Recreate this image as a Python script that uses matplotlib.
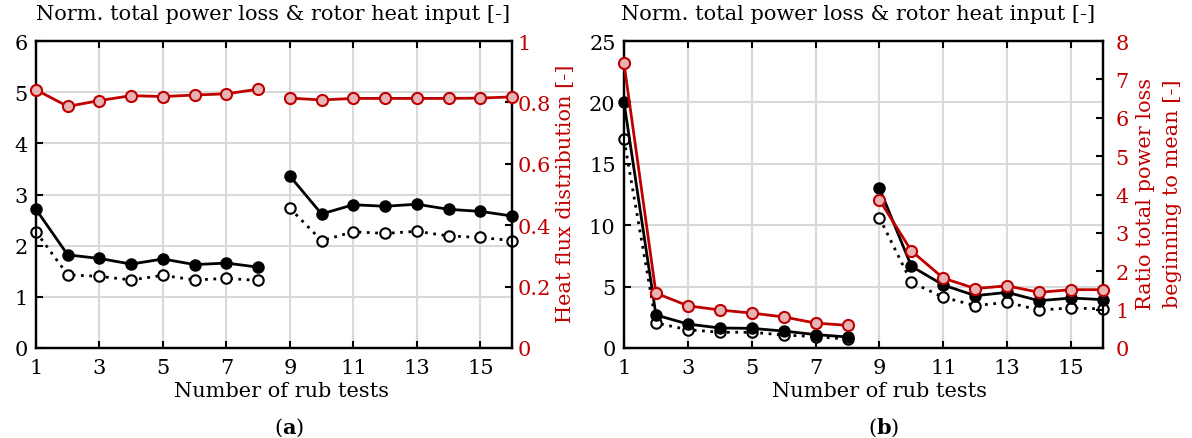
import matplotlib
matplotlib.use("Agg")
import matplotlib.pyplot as plt
import numpy as np

plt.rcParams['font.family'] = ['DejaVu Serif']
plt.rcParams['mathtext.fontset'] = 'dejavuserif'
FS = 15

tests = list(range(1, 17))
xticks = [1, 3, 5, 7, 9, 11, 13, 15]

# Panel (a)
a_filled = [2.71, 1.82, 1.75, 1.64, 1.74, 1.63, 1.66, 1.58,
            3.36, 2.62, 2.80, 2.77, 2.81, 2.71, 2.67, 2.58]
a_open = [2.27, 1.43, 1.40, 1.33, 1.42, 1.33, 1.36, 1.32,
          2.73, 2.10, 2.27, 2.24, 2.28, 2.19, 2.16, 2.10]
a_heat = [0.841, 0.787, 0.806, 0.822, 0.819, 0.824, 0.828, 0.843,
          0.814, 0.808, 0.813, 0.813, 0.813, 0.813, 0.814, 0.818]

# Panel (b)
b_filled = [20.0, 2.69, 1.95, 1.63, 1.60, 1.38, 1.09, 0.90,
            13.0, 6.65, 5.13, 4.26, 4.53, 3.85, 4.07, 3.94]
b_open = [17.0, 2.04, 1.49, 1.28, 1.28, 1.06, 0.92, 0.73,
          10.6, 5.35, 4.13, 3.45, 3.72, 3.09, 3.26, 3.18]
b_ratio = [7.42, 1.43, 1.10, 0.99, 0.91, 0.81, 0.65, 0.59,
           3.86, 2.53, 1.82, 1.55, 1.62, 1.45, 1.52, 1.52]

RED = '#C00000'
PINK = '#E6B4B4'
W, H = 1192, 439

fig = plt.figure(figsize=(W / 100, H / 100), dpi=100)


def style(ax, pad=6):
    for s in ax.spines.values():
        s.set_linewidth(1.6)
        s.set_color('black')
    ax.tick_params(direction='in', length=5, width=1.5, labelsize=FS, pad=pad)


def draw_black(ax, filled, opn):
    for sl in (slice(0, 8), slice(8, 16)):
        ax.plot(tests[sl], opn[sl], ls=(0, (1, 2)), color='black', lw=2.0,
                marker='o', ms=7.5, mfc='white', mec='black', mew=1.5,
                clip_on=False, zorder=3)
        ax.plot(tests[sl], filled[sl], ls='-', color='black', lw=2.0,
                marker='o', ms=7.5, mfc='black', mec='black', mew=1.5,
                clip_on=False, zorder=4)


def draw_red(ax, vals):
    for sl in (slice(0, 8), slice(8, 16)):
        ax.plot(tests[sl], vals[sl], ls='-', color=RED, lw=2.0,
                marker='o', ms=8, mfc=PINK, mec=RED, mew=1.5,
                clip_on=False, zorder=5)


def panel(rect, filled, opn, red, ylim, yticks, rylim, ryticks, rlabels,
          title_x, xlabel_x, sub_x, sub, rlabel, rlabel_x, rpad, lpad, lsp):
    ax = fig.add_axes(rect)
    ax.set_xlim(1, 16)
    ax.set_ylim(*ylim)
    ax.set_xticks(xticks)
    ax.set_yticks(yticks)
    ax.grid(True, color='#D9D9D9', lw=1.5, zorder=0)
    ax.set_axisbelow(True)
    style(ax, pad=lpad)
    ax.tick_params(top=True, axis='both')
    ax.tick_params(axis='x', pad=7)
    draw_black(ax, filled, opn)
    ax2 = ax.twinx()
    ax2.set_ylim(*rylim)
    ax2.set_yticks(ryticks)
    ax2.set_yticklabels(rlabels)
    style(ax2, pad=rpad)
    ax2.tick_params(axis='y', colors='black', labelcolor=RED)
    draw_red(ax2, red)
    fig.text(title_x / W, 1 - 15 / H, 'Norm. total power loss & rotor heat input [-]',
             fontsize=FS, ha='left', va='center')
    fig.text(xlabel_x / W, 1 - 392 / H, 'Number of rub tests', fontsize=FS,
             ha='center', va='center')
    fig.text(sub_x / W, 1 - 428 / H, sub, fontsize=FS, ha='center', va='center')
    fig.text(rlabel_x / W, 1 - 194 / H, rlabel, fontsize=FS, color=RED,
             rotation=90, ha='center', va='center', multialignment='center',
             linespacing=lsp)
    return ax, ax2


def sub_text(letter):
    return r'($\mathbf{' + letter + r'}$)'


panel([36 / W, 90 / H, 476 / W, 307 / H], a_filled, a_open, a_heat,
      (0, 6), range(0, 7), (0, 1), [0, 0.2, 0.4, 0.6, 0.8, 1],
      ['0', '0.2', '0.4', '0.6', '0.8', '1'],
      36, 282, 289, sub_text('a'), 'Heat flux distribution [-]', 566, 4, 6, 1.2)

panel([624 / W, 90 / H, 479 / W, 307 / H], b_filled, b_open, b_ratio,
      (0, 25), range(0, 26, 5), (0, 8), range(0, 9),
      [str(v) for v in range(0, 9)],
      621, 879, 884, sub_text('b'),
      'Ratio total power loss\nbeginning to mean [-]', 1159, 9, 6, 1.55)

fig.savefig('out.png', dpi=100)
